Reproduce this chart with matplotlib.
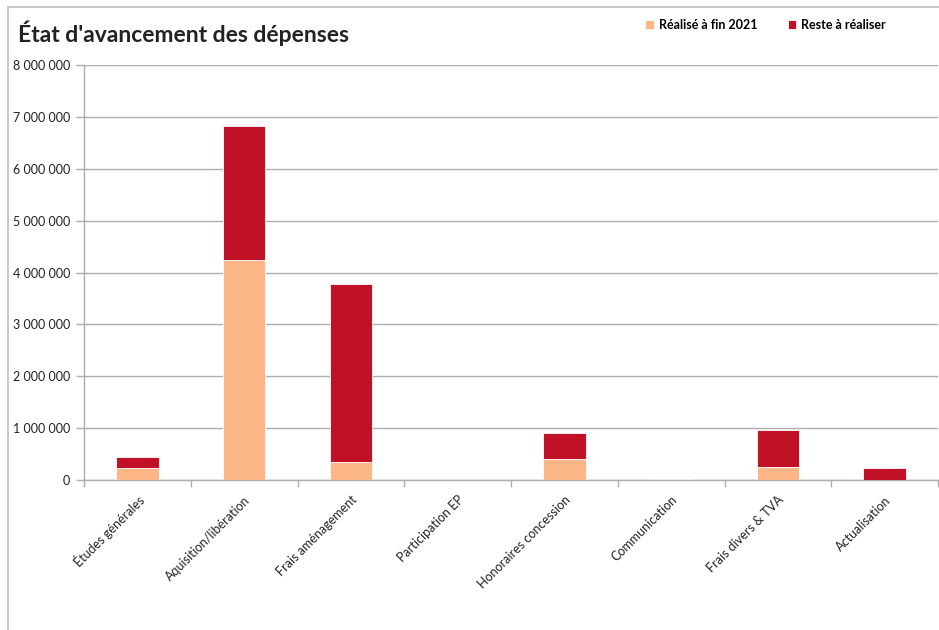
import matplotlib.pyplot as plt
import numpy as np
from matplotlib.patches import Rectangle

plt.rcParams['font.family'] = ['Lato', 'DejaVu Sans']

categories = ["Études générales", "Aquisition/libération", "Frais aménagement",
              "Participation EP", "Honoraires concession", "Communication",
              "Frais divers & TVA", "Actualisation"]
realise = [235000, 4240000, 350000, 0, 405000, 0, 250000, 0]
reste = [210000, 2580000, 3430000, 0, 495000, 15000, 705000, 225000]
yticks = [0, 1000000, 2000000, 3000000, 4000000, 5000000, 6000000, 7000000, 8000000]

c_realise = '#FDB688'
c_reste = '#C01126'
grid_c = '#ADADAD'

fig = plt.figure(figsize=(9.39, 6.30), dpi=100)
ax = fig.add_axes([84 / 939, 1 - 480 / 630, 854 / 939, 415 / 630])

# outer chart frame
fig.patches.append(Rectangle((8 / 939, -0.1), 1.2, (630 - 7) / 630 + 0.1,
                             transform=fig.transFigure, fill=False,
                             edgecolor='#BFBFBF', linewidth=1.2))

x = np.arange(len(categories))
ax.bar(x, realise, width=0.4, color=c_realise, edgecolor='white', linewidth=0.6,
       label='Réalisé à fin 2021', zorder=3)
ax.bar(x, reste, width=0.4, bottom=realise, color=c_reste, edgecolor='white',
       linewidth=0.6, label='Reste à réaliser', zorder=3)

ax.set_xlim(-0.5, len(categories) - 0.5)
ax.set_ylim(0, 8000000)
ax.set_yticks(yticks)
ax.set_yticklabels([f"{v:,}".replace(',', ' ') for v in yticks], fontsize=9, color='#222222')
ax.yaxis.grid(True, color=grid_c, linewidth=1, zorder=0)

ax.set_xticks(np.arange(len(categories) + 1) - 0.5, minor=False)
ax.set_xticklabels([])
ax.tick_params(axis='x', length=5, color=grid_c, width=1)
ax.tick_params(axis='y', length=6, color=grid_c, width=1, pad=4)

for i, name in enumerate(categories):
    ax.annotate(name, xy=(i, 0), xycoords='data', xytext=(3, -13),
                textcoords='offset points', rotation=45, rotation_mode='anchor',
                ha='right', va='center', fontsize=9, color='#222222')

for side in ['top', 'right']:
    ax.spines[side].set_visible(False)
ax.spines['left'].set_color(grid_c)
ax.spines['bottom'].set_color(grid_c)
ax.spines['left'].set_linewidth(1)
ax.spines['bottom'].set_linewidth(1)

fig.text(18 / 939, 1 - 33 / 630, "État d'avancement des dépenses", fontsize=16.5,
         fontweight='bold', color='#222222', va='center', ha='left')

leg = fig.legend(loc='center left', bbox_to_anchor=(634 / 939, 1 - 25 / 630), ncol=2,
                 frameon=False, handlelength=0.7, handleheight=0.7,
                 handletextpad=0.4, columnspacing=2.4,
                 prop={'weight': 'bold', 'size': 9})

fig.savefig('out.png', dpi=100)
